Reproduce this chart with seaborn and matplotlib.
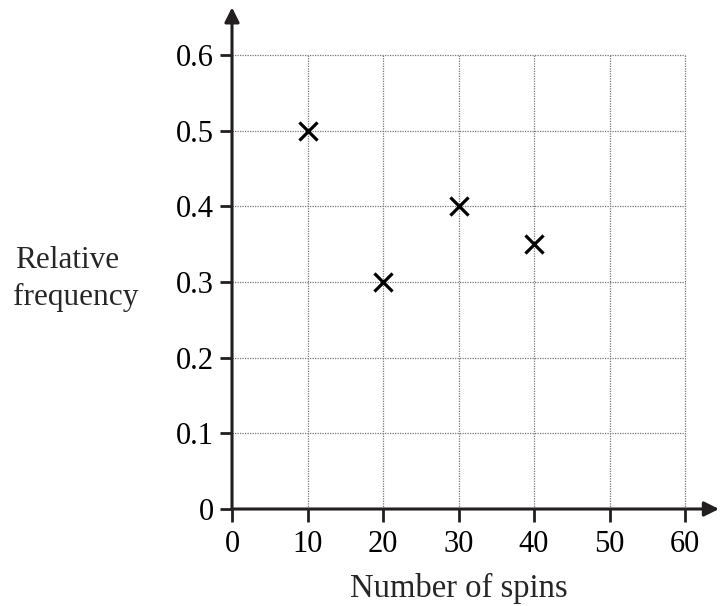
import matplotlib
matplotlib.use("Agg")
import matplotlib.pyplot as plt
import seaborn as sns
import pandas as pd

# ── Data ──────────────────────────────────────────────────────────────────────
spins = [10, 20, 30, 40]
rel_freq = [0.5, 0.3, 0.4, 0.35]
x_ticks = [0, 10, 20, 30, 40, 50, 60]
y_ticks = [0, 0.1, 0.2, 0.3, 0.4, 0.5, 0.6]
y_tick_labels = ["0", "0.1", "0.2", "0.3", "0.4", "0.5", "0.6"]

INK = "#231f20"
FS = 22

sns.set_style("white")
plt.rcParams["font.family"] = ["Liberation Serif", "DejaVu Serif"]

df = pd.DataFrame({"spins": spins, "freq": rel_freq})

fig = plt.figure(figsize=(7.2, 6.06), dpi=100)
ax = fig.add_axes([232 / 720, 97 / 606, 453 / 720, 454 / 606])

sns.scatterplot(data=df, x="spins", y="freq", marker="x", s=170,
                color="black", linewidth=2.3, ax=ax, zorder=5, legend=False)

ax.set_xlim(0, 60)
ax.set_ylim(0, 0.6)
ax.set_xticks(x_ticks)
ax.set_yticks(y_ticks)
ax.set_yticklabels(y_tick_labels)
ax.tick_params(axis="both", direction="out", length=9, width=2, color=INK,
               labelsize=FS, labelcolor="black", bottom=True, left=True)
ax.tick_params(axis="y", pad=4)
ax.tick_params(axis="x", pad=6)

ax.grid(True, linestyle=(0, (1, 1)), color="#777777", linewidth=0.9)
for gl in ax.get_xgridlines() + ax.get_ygridlines():
    gl.set_clip_on(False)
for s in ax.spines.values():
    s.set_visible(False)

# axes drawn as arrows
ax.annotate("", xy=(1.075, 0), xytext=(0, 0), xycoords="axes fraction",
            arrowprops=dict(arrowstyle="-|>", color=INK, lw=2.2, mutation_scale=22,
                            shrinkA=0, shrinkB=0), annotation_clip=False)
ax.annotate("", xy=(0, 1.105), xytext=(0, 0), xycoords="axes fraction",
            arrowprops=dict(arrowstyle="-|>", color=INK, lw=2.2, mutation_scale=22,
                            shrinkA=0, shrinkB=0), annotation_clip=False)

ax.set_xlabel("")
ax.set_ylabel("")
fig.text(459 / 720, 1 - 597 / 606, "Number of spins", fontsize=23.5,
         ha="center", va="baseline")
fig.text(15 / 720, 1 - 268 / 606, "Relative", fontsize=22.5,
         ha="left", va="baseline")
fig.text(13 / 720, 1 - 305 / 606, "frequency", fontsize=22.5,
         ha="left", va="baseline")

plt.savefig("out.png", dpi=100)
plt.close()
